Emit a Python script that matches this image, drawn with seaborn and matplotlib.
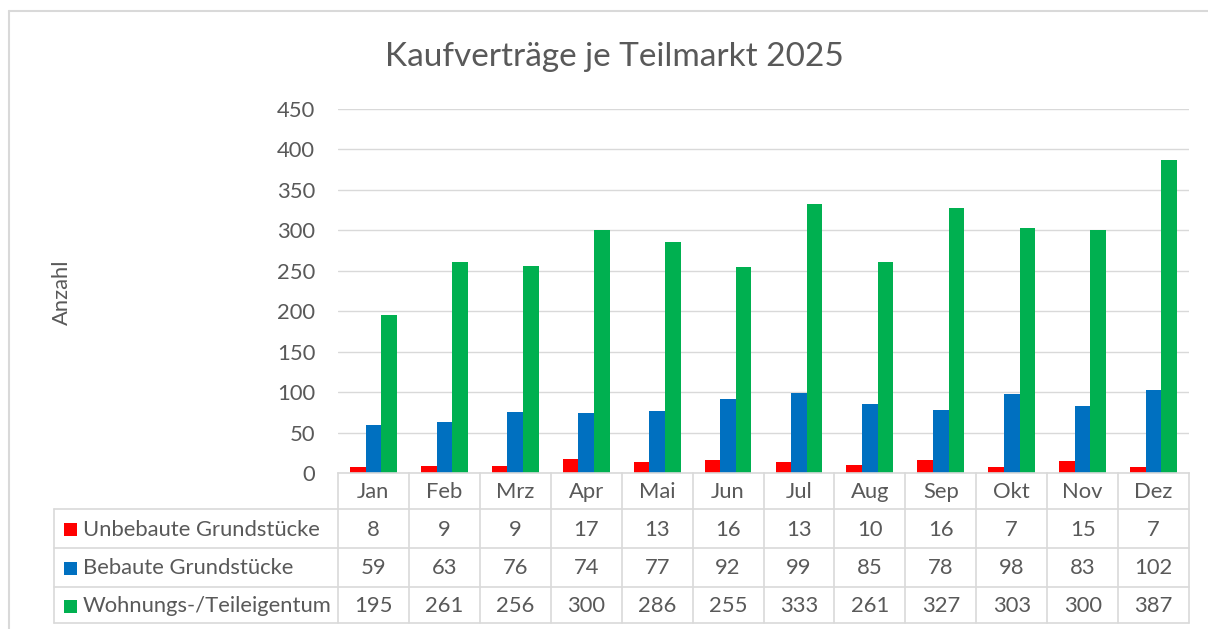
import matplotlib
matplotlib.use("Agg")
import matplotlib.pyplot as plt
import seaborn as sns
import pandas as pd
from matplotlib.patches import Rectangle
from matplotlib.lines import Line2D

months = ["Jan", "Feb", "Mrz", "Apr", "Mai", "Jun", "Jul", "Aug", "Sep", "Okt", "Nov", "Dez"]
series_names = ["Unbebaute Grundstücke", "Bebaute Grundstücke", "Wohnungs-/Teileigentum"]
unbebaut = [8, 9, 9, 17, 13, 16, 13, 10, 16, 7, 15, 7]
bebaut = [59, 63, 76, 74, 77, 92, 99, 85, 78, 98, 83, 102]
wohnung = [195, 261, 256, 300, 286, 255, 333, 261, 327, 303, 300, 387]
colors = ["#FF0000", "#0070C0", "#00B050"]
yticks = [0, 50, 100, 150, 200, 250, 300, 350, 400, 450]

series_values = [unbebaut, bebaut, wohnung]
df = pd.DataFrame({
    "Monat": months * 3,
    "Serie": [s for s in series_names for _ in months],
    "Anzahl": unbebaut + bebaut + wohnung,
})

sns.set_theme(style="white")
plt.rcParams["font.family"] = ["Lato", "DejaVu Sans"]
TXT = "#595959"
GRID = "#D9D9D9"
FS = 15.8

W, H = 1208, 629
fig = plt.figure(figsize=(W / 100, H / 100), dpi=100)

def fx(px):
    return px / W

def fy(py):
    return 1 - py / H

ax_l, ax_r, ax_t, ax_b = 338, 1189, 109, 473
ax = fig.add_axes([fx(ax_l), fy(ax_b), fx(ax_r - ax_l), fy(ax_t) - fy(ax_b)])

sns.barplot(data=df, x="Monat", y="Anzahl", hue="Serie", order=months,
            hue_order=series_names, palette=colors, width=0.66, gap=0,
            saturation=1, ax=ax, legend=False, linewidth=0)

ax.set_ylim(0, 450)
ax.set_xlim(-0.5, len(months) - 0.5)
ax.set_yticks(yticks)
ax.set_yticklabels([str(v) for v in yticks], fontsize=FS, color=TXT)
ax.tick_params(axis="y", length=0, pad=16.5)
ax.set_xticks([])
ax.set_xlabel("")
ax.set_ylabel("")
ax.grid(axis="y", color=GRID, linewidth=1)
ax.set_axisbelow(True)
for s in ["top", "right", "left"]:
    ax.spines[s].set_visible(False)
ax.spines["bottom"].set_color(GRID)
ax.spines["bottom"].set_linewidth(1.2)

# Title and y label
fig.text(fx(614), fy(57), "Kaufverträge je Teilmarkt 2025", ha="center", va="center",
         fontsize=24, color=TXT)
fig.text(fx(62), fy(292), "Anzahl", rotation=90, ha="center", va="center",
         fontsize=FS, color=TXT)

# Outer border (top and left only visible)
fig.add_artist(Line2D([fx(9), fx(1208)], [fy(11), fy(11)], color=GRID, lw=1.5))
fig.add_artist(Line2D([fx(9), fx(9)], [fy(11), fy(629)], color=GRID, lw=1.5))

# Data table
rows_y = [473, 509, 548, 587, 623]
col_w = (ax_r - ax_l) / len(months)
col_x = [ax_l + i * col_w for i in range(len(months) + 1)]
label_left = 54
lw = 1.2
for i, x in enumerate(col_x):
    fig.add_artist(Line2D([fx(x), fx(x)], [fy(rows_y[0]), fy(rows_y[-1])], color=GRID, lw=lw))
fig.add_artist(Line2D([fx(label_left), fx(label_left)], [fy(rows_y[1]), fy(rows_y[-1])], color=GRID, lw=lw))
for j, y in enumerate(rows_y[1:]):
    fig.add_artist(Line2D([fx(label_left), fx(ax_r)], [fy(y), fy(y)], color=GRID, lw=lw))

for i, m in enumerate(months):
    cx = (col_x[i] + col_x[i + 1]) / 2
    fig.text(fx(cx), fy((rows_y[0] + rows_y[1]) / 2 + 1), m, ha="center", va="center",
             fontsize=FS, color=TXT)

for r, (name, vals, col) in enumerate(zip(series_names, series_values, colors)):
    cy = (rows_y[r + 1] + rows_y[r + 2]) / 2 + 1
    fig.add_artist(Rectangle((fx(63.5), fy(cy + 6.5)), fx(13), fy(0) - fy(13),
                             facecolor=col, edgecolor="none"))
    fig.text(fx(83), fy(cy), name, ha="left", va="center", fontsize=FS, color=TXT)
    for i, v in enumerate(vals):
        cx = (col_x[i] + col_x[i + 1]) / 2
        fig.text(fx(cx), fy(cy), str(v), ha="center", va="center", fontsize=FS, color=TXT)

fig.savefig("out.png", dpi=100, facecolor="white")
